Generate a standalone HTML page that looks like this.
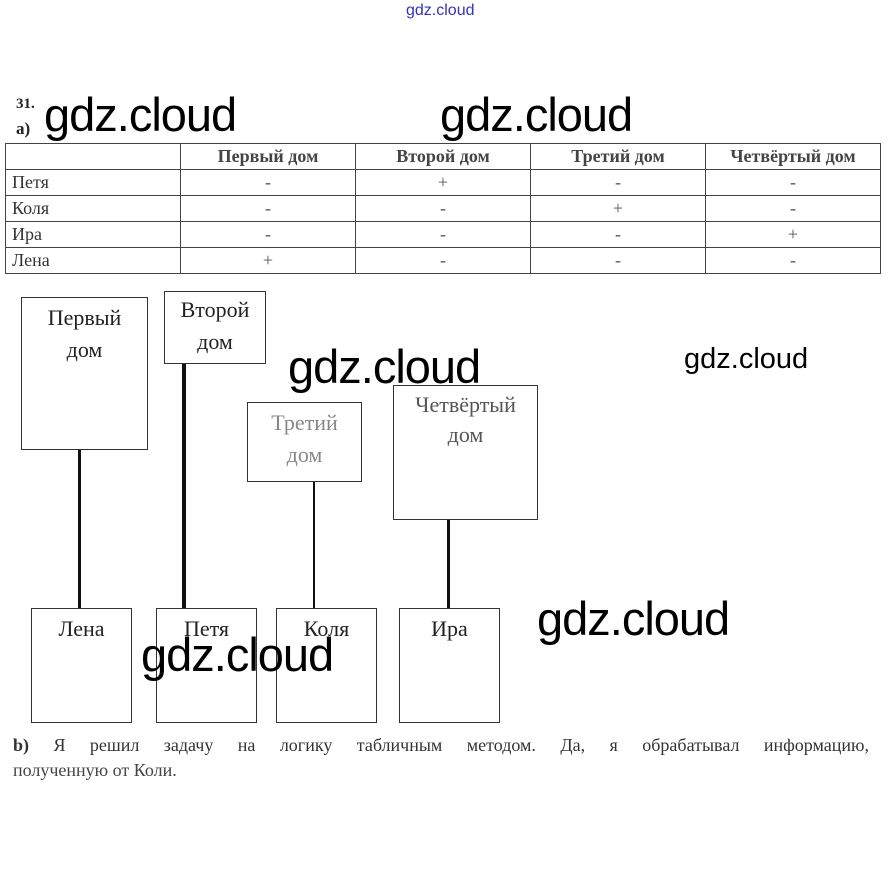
<!DOCTYPE html>
<html><head><meta charset="utf-8"><style>
body{margin:0;width:889px;height:881px;background:#fff;position:relative;overflow:hidden;font-family:"Liberation Serif","DejaVu Serif",serif;color:#222}
.a{position:absolute}
.box{position:absolute;border:1px solid #333;box-sizing:border-box;text-align:center;font-size:22px;line-height:32px;padding-top:4px;color:#222}
.ln{position:absolute;background:#111}
.wm{position:absolute;font-family:"Liberation Sans","DejaVu Sans",sans-serif;color:#000;font-size:47px;line-height:47px;letter-spacing:-1px}
table{position:absolute;left:5px;top:143px;border-collapse:collapse;font-size:18px}
td{border:1px solid #444;height:25px;padding:0;text-align:center;width:174px;color:#555}
td:first-child{text-align:left;padding-left:6px;width:168px;color:#333}
tr:first-child td{font-weight:bold;color:#444}
</style></head><body>
<div class="a" style="left:406px;top:2px;font-family:'Liberation Sans',sans-serif;font-size:16px;color:#3333bb">gdz.cloud</div>
<div class="a" style="left:16px;top:96px;font-size:15px;font-weight:bold">31.</div>
<div class="a" style="left:16px;top:119px;font-size:17px;font-weight:bold">a)</div>
<table>
<tr><td></td><td>Первый дом</td><td>Второй дом</td><td>Третий дом</td><td>Четвёртый дом</td></tr>
<tr><td>Петя</td><td>-</td><td>+</td><td>-</td><td>-</td></tr>
<tr><td>Коля</td><td>-</td><td>-</td><td>+</td><td>-</td></tr>
<tr><td>Ира</td><td>-</td><td>-</td><td>-</td><td>+</td></tr>
<tr><td>Лена</td><td>+</td><td>-</td><td>-</td><td>-</td></tr>
</table>
<div class="box" style="left:21px;top:297px;width:127px;height:153px">Первый<br>дом</div>
<div class="box" style="left:164px;top:291px;width:102px;height:73px;padding-top:2px">Второй<br>дом</div>
<div class="box" style="left:247px;top:402px;width:115px;height:80px;color:#888">Третий<br>дом</div>
<div class="box" style="left:393px;top:385px;width:145px;height:135px;line-height:30px;color:#555">Четвёртый<br>дом</div>
<div class="ln" style="left:78px;top:450px;width:3px;height:158px"></div>
<div class="ln" style="left:182px;top:364px;width:4px;height:244px"></div>
<div class="ln" style="left:313px;top:482px;width:2px;height:126px"></div>
<div class="ln" style="left:447px;top:520px;width:3px;height:88px"></div>
<div class="box" style="left:31px;top:608px;width:101px;height:115px">Лена</div>
<div class="box" style="left:156px;top:608px;width:101px;height:115px">Петя</div>
<div class="box" style="left:276px;top:608px;width:101px;height:115px">Коля</div>
<div class="box" style="left:399px;top:608px;width:101px;height:115px">Ира</div>
<div class="a" style="left:13px;top:733px;width:856px;font-size:18px;line-height:25px;text-align:justify;text-align-last:justify;color:#333"><b>b)</b> Я решил задачу на логику табличным методом. Да, я обрабатывал информацию,</div>
<div class="a" style="left:13px;top:758px;font-size:18px;line-height:25px;color:#444">полученную от Коли.</div>
<div class="wm" style="left:44px;top:91px">gdz.cloud</div>
<div class="wm" style="left:440px;top:91px">gdz.cloud</div>
<div class="wm" style="left:288px;top:343px">gdz.cloud</div>
<div class="wm" style="left:684px;top:345px;font-size:29px;line-height:29px;letter-spacing:0">gdz.cloud</div>
<div class="wm" style="left:537px;top:595px">gdz.cloud</div>
<div class="wm" style="left:141px;top:631px">gdz.cloud</div>
</body></html>
